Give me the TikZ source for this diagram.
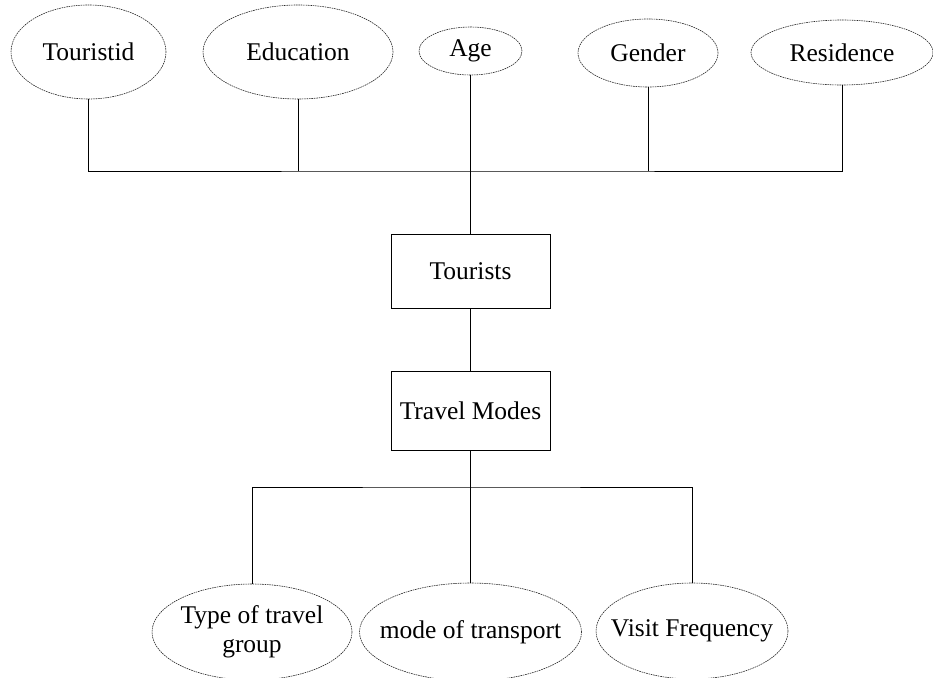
\documentclass[tikz,border=0pt]{standalone}
\usepackage{fontspec}
\setmainfont{Liberation Serif}
\usetikzlibrary{shapes.geometric}

\tikzset{
  attr/.style={ellipse, draw=black!85, line width=0.6pt,
    dash pattern=on 1.6pt off 0.8pt, inner sep=-14pt, align=center,
    font=\fontsize{25.5}{29}\selectfont},
  entity/.style={rectangle, draw=black, line width=0.8pt,
    minimum width=159pt, inner sep=0pt,
    font=\fontsize{25.5}{29}\selectfont},
  link/.style={draw=black, line width=0.8pt}
}

\begin{document}
\begin{tikzpicture}[x=1pt, y=-1pt]
  \useasboundingbox (0,0) rectangle (933,677);

  % attributes of the tourist entity
  \node[attr, minimum width=155pt, minimum height=94pt] (touristid) at (88.5,52) {Touristid};
  \node[attr, minimum width=190pt, minimum height=94pt] (education) at (298,52) {Education};
  \node[attr, minimum width=103pt, minimum height=48pt] (age) at (470.5,51) {Age};
  \node[attr, minimum width=140pt, minimum height=68pt] (gender) at (648,53) {Gender};
  \node[attr, minimum width=182pt, minimum height=65pt] (residence) at (842,52.5) {Residence};

  % entities
  \node[entity, minimum height=74pt] (tourists) at (470.5,271) {Tourists};
  \node[entity, minimum height=79pt] (modes) at (470.5,410.5) {Travel Modes};

  % attributes of the travel mode entity
  \node[attr, minimum width=200pt, minimum height=96pt] (typegrp) at (252,632) {Type of travel\\group};
  \node[attr, minimum width=222pt, minimum height=98pt] (transport) at (470.5,632) {mode of transport};
  \node[attr, minimum width=192pt, minimum height=96pt] (visitfreq) at (692,631) {Visit Frequency};

  % connector buses
  \coordinate (topbus) at (470.5,171);
  \coordinate (lowbus) at (470.5,487);

  \draw[link] (touristid.south) |- (topbus) -| (residence.south);
  \draw[link] (education.south) -- (education.south |- topbus);
  \draw[link] (gender.south) -- (gender.south |- topbus);
  \draw[link] (age.south) -- (tourists.north);
  \draw[link] (tourists.south) -- (modes.north);

  \draw[link] (modes.south) -- (lowbus);
  \draw[link] (typegrp.north) |- (lowbus) -| (visitfreq.north);
  \draw[link] (lowbus) -- (transport.north);
\end{tikzpicture}
\end{document}
